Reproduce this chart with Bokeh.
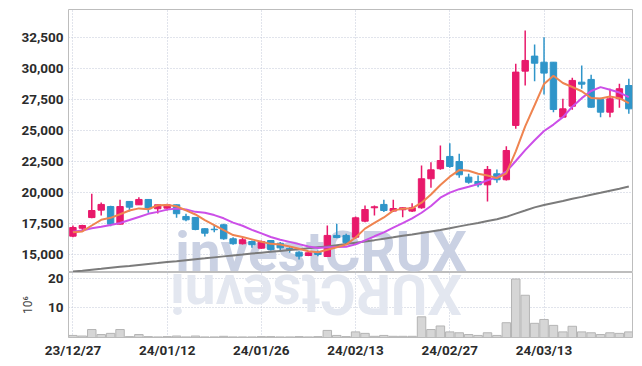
from bokeh.plotting import figure
from bokeh.layouts import column
from bokeh.models import ColumnDataSource, FixedTicker, NumeralTickFormatter, Range1d, Label
from bokeh.embed import file_html
from bokeh.resources import INLINE

# ---- data ----
tick_labels = ["23/12/27", "24/01/12", "24/01/26", "24/02/13", "24/02/27", "24/03/13"]
tick_index = [0, 10, 20, 30, 40, 50]

open_ = [16500, 17140, 18000, 18600, 18890, 17470, 19300, 19030, 19460, 18710,
         18760, 19030, 18090, 18010, 17100, 17060, 17420, 16290, 15890, 16070,
         15530, 16150, 15930, 15510, 15210, 14940, 15210, 14860, 16560, 16560,
         16420, 17710, 18790, 19060, 18520, 18630, 18520, 18790, 21130, 21940,
         22930, 22520, 21260, 20910, 20640, 21530, 21050, 25430, 29810, 31020,
         30530, 30530, 26100, 26980, 28920, 29140, 27520, 26500, 27580, 28650]
high = [17360, 17420, 19920, 19220, 18950, 19440, 19340, 19640, 19500, 19080,
        19110, 19060, 18310, 18050, 17140, 17420, 17500, 16420, 16390, 16150,
        16150, 16180, 16020, 15690, 15290, 15210, 15350, 17360, 17500, 16690,
        18090, 18980, 18980, 19440, 19440, 18840, 19160, 22200, 22470, 23810,
        24000, 23150, 21530, 21400, 22150, 21880, 23760, 30400, 33090, 31960,
        32550, 30550, 27580, 29270, 30270, 29520, 27660, 28390, 28790, 29190]
low = [16420, 16940, 17950, 18170, 17300, 17440, 18490, 19010, 18390, 18330,
       18570, 17980, 17710, 16980, 16480, 16820, 16210, 15810, 15830, 15560,
       15480, 15350, 15350, 15160, 14620, 14890, 14890, 14820, 16340, 15890,
       16290, 17630, 18170, 18440, 18440, 18030, 18440, 18710, 20400, 21850,
       22020, 21210, 20730, 20450, 19300, 20810, 20990, 25160, 28650, 29000,
       27930, 26500, 26050, 26690, 28390, 26860, 26100, 26100, 26860, 26370]
close = [17200, 17360, 18570, 19060, 17470, 18890, 18840, 19460, 18710, 19030,
         19030, 18310, 17820, 17040, 16740, 17020, 16290, 15890, 16210, 15810,
         16070, 15430, 15560, 15430, 14890, 15160, 15020, 16560, 16390, 15970,
         17980, 18650, 18870, 18570, 18730, 18790, 18790, 21130, 21850, 22600,
         22120, 21450, 20850, 20640, 21880, 21050, 23410, 29730, 30670, 30450,
         29650, 26720, 26770, 29060, 28760, 26900, 26500, 27580, 28390, 26770]
volume_m = [0.7, 0.5, 2.7, 1.0, 1.4, 2.7, 0.3, 1.0, 0.3, 0.2,
            0.3, 0.5, 0.2, 0.5, 0.2, 0.2, 0.4, 0.2, 0.2, 0.2,
            0.3, 0.3, 0.2, 0.2, 0.3, 0.2, 0.3, 2.4, 0.7, 0.3,
            1.9, 1.4, 0.4, 0.7, 0.4, 0.4, 0.4, 7.0, 2.7, 3.9,
            1.9, 1.6, 1.0, 0.7, 1.6, 0.7, 5.0, 19.8, 14.3, 4.8,
            6.1, 4.1, 1.9, 3.8, 1.9, 1.6, 1.0, 1.6, 1.4, 1.9]
ma_short = [16820, 16880, 17360, 17820, 17980, 18270, 18570, 18740, 18670, 18990,
            19010, 18910, 18580, 18250, 17790, 17390, 16980, 16590, 16430, 16240,
            16050, 15880, 15820, 15660, 15480, 15290, 15210, 15410, 15600, 15820,
            16390, 17110, 17570, 18010, 18560, 18720, 18750, 19200, 19860, 20630,
            21300, 21830, 21780, 21540, 21390, 21180, 21570, 23340, 25350, 27060,
            28780, 29440, 28850, 28530, 28190, 27640, 27600, 27760, 27630, 27230]
ma_mid = [16850, 16960, 17140, 17260, 17400, 17560, 17800, 18050, 18300, 18460,
          18640, 18740, 18660, 18460, 18390, 18200, 17940, 17590, 17340, 17010,
          16720, 16430, 16210, 16040, 15860, 15670, 15550, 15610, 15630, 15650,
          15840, 16160, 16490, 16810, 17190, 17550, 17930, 18390, 18930, 19600,
          20010, 20290, 20490, 20700, 21010, 21240, 21700, 22560, 23440, 24230,
          24980, 25500, 26100, 26940, 27630, 28210, 28520, 28310, 28080, 27710]
ma_long = [13650, 13720, 13800, 13870, 13950, 14030, 14100, 14180, 14260, 14330,
           14410, 14480, 14560, 14640, 14710, 14790, 14870, 14950, 15020, 15100,
           15170, 15240, 15310, 15380, 15450, 15530, 15600, 15670, 15770, 15870,
           15970, 16070, 16180, 16300, 16410, 16530, 16640, 16760, 16880, 17000,
           17140, 17290, 17430, 17570, 17720, 17860, 18060, 18320, 18570, 18820,
           19010, 19180, 19340, 19510, 19670, 19840, 20000, 20170, 20330, 20500]
price_ticks = [15000, 17500, 20000, 22500, 25000, 27500, 30000, 32500]
volume_ticks = [10, 20]

# ---- styling ----
UP = "#e8196b"
DOWN = "#2f95c9"
GRID = "#c3c9d8"
LABEL_FONT = "Roboto"
LABEL_COLOR = "#2b2b2b"

n = len(close)
idx = list(range(n))
colors = [UP if c >= o else DOWN for o, c in zip(open_, close)]
src = ColumnDataSource(dict(
    x=idx, open=open_, high=high, low=low, close=close,
    top=[max(o, c) for o, c in zip(open_, close)],
    bottom=[min(o, c) for o, c in zip(open_, close)],
    color=colors, vol=volume_m,
    ma_s=ma_short, ma_m=ma_mid, ma_l=ma_long,
))

xr = Range1d(-0.47, 59.39)

p1 = figure(width=636, height=272, x_range=xr, y_range=Range1d(13570, 34780),
            output_backend="svg", toolbar_location=None,
            min_border_left=68, min_border_right=4, min_border_top=9, min_border_bottom=0)
p1.xaxis.visible = False
p1.outline_line_color = "#bdbdbd"

wm = Label(x=10.85, y=13570, y_offset=-11, text="investCRUX", text_font="Roboto",
           text_font_style="bold", text_font_size="55px", text_color="#cad1e3",
           text_align="left", text_baseline="bottom", level="underlay")
p1.add_layout(wm)

p1.segment(x0="x", y0="high", x1="x", y1="low", color="color", line_width=1.5, source=src)
p1.vbar(x="x", top="top", bottom="bottom", width=0.68, fill_color="color",
        line_color="color", line_width=1, source=src)
p1.line("x", "ma_l", source=src, color="#7b7b7b", line_width=2)
p1.line("x", "ma_m", source=src, color="#cc4fe8", line_width=2)
p1.line("x", "ma_s", source=src, color="#ef8450", line_width=2)

p1.yaxis.ticker = FixedTicker(ticks=price_ticks)
p1.yaxis.formatter = NumeralTickFormatter(format="0,0")
p1.ygrid.ticker = FixedTicker(ticks=price_ticks)
p1.xgrid.ticker = FixedTicker(ticks=tick_index)

p2 = figure(width=636, height=94, x_range=xr, y_range=Range1d(0, 22),
            output_backend="svg", toolbar_location=None,
            min_border_left=68, min_border_right=4, min_border_top=0, min_border_bottom=29)
p2.outline_line_color = "#bdbdbd"

refl = Label(x=41.3, y=22, y_offset=11, text="XURCtsevni", text_font="Roboto",
             text_font_style="bold", text_font_size="55px", text_color="#e3e7f0",
             text_align="left", text_baseline="bottom", angle=3.14159265, level="underlay")
p2.add_layout(refl)

p2.vbar(x="x", top="vol", bottom=0, width=0.9, fill_color="#d6d6d6",
        line_color="#b4b4b4", line_width=1, source=src)

p2.yaxis.ticker = FixedTicker(ticks=volume_ticks)
p2.ygrid.ticker = FixedTicker(ticks=volume_ticks)
p2.xaxis.ticker = FixedTicker(ticks=tick_index)
p2.xgrid.ticker = FixedTicker(ticks=tick_index)
p2.xaxis.major_label_overrides = {i: t for i, t in zip(tick_index, tick_labels)}
p2.yaxis.axis_label = "10⁶"
p2.yaxis.axis_label_text_font_style = "normal"
p2.yaxis.axis_label_text_font_size = "12px"
p2.yaxis.axis_label_text_font = "Roboto"
p2.yaxis.axis_label_text_color = "#444444"
p2.yaxis.axis_label_standoff = 10

for p in (p1, p2):
    for g in (p.xgrid, p.ygrid):
        g.grid_line_color = GRID
        g.grid_line_dash = "1 2"
        g.grid_line_width = 1
    for ax in (p.xaxis, p.yaxis):
        ax.axis_line_color = None
        ax.major_tick_line_color = None
        ax.minor_tick_line_color = None
        ax.major_tick_out = 0
        ax.major_tick_in = 0
        ax.minor_tick_out = 0
        ax.minor_tick_in = 0
        ax.major_label_text_font = LABEL_FONT
        ax.major_label_text_font_style = "bold"
        ax.major_label_text_font_size = "13.5px"
        ax.major_label_text_color = LABEL_COLOR
    p.yaxis.major_label_standoff = 5
p2.xaxis.major_label_standoff = 4

layout = column(p1, p2)
open("out.html", "w").write(file_html(layout, INLINE))
